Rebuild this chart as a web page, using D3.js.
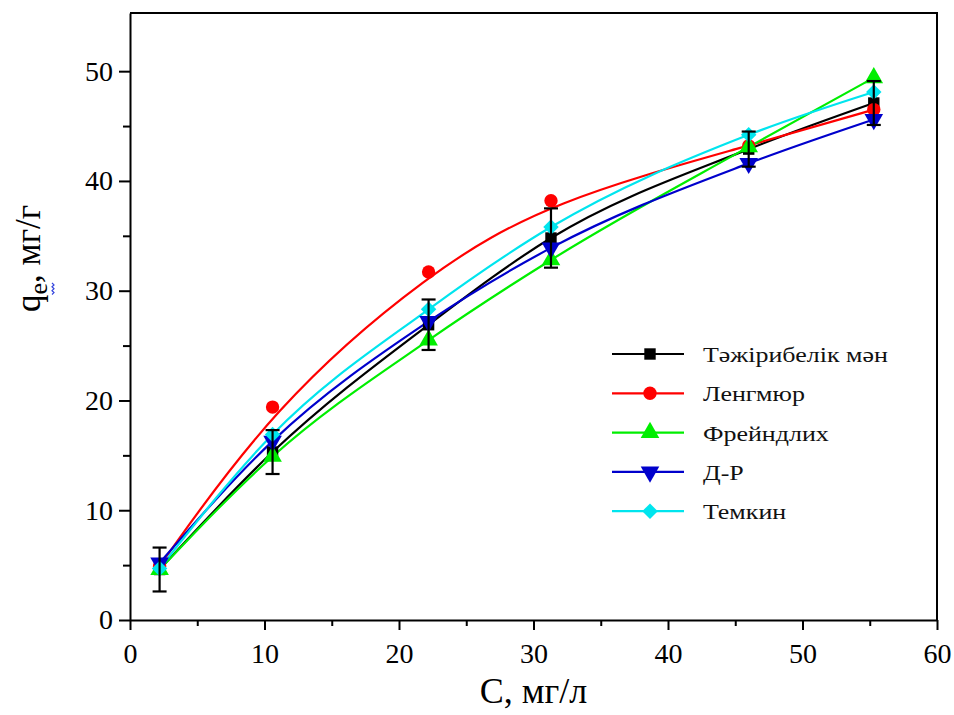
<!DOCTYPE html>
<html>
<head>
<meta charset="utf-8">
<script src="https://cdn.jsdelivr.net/npm/d3@7"></script>
<style>
  body { margin: 0; background: #fff; }
  svg { display: block; font-family: "Liberation Serif", "DejaVu Serif", serif; }
  .axis path, .axis line { stroke: #000; stroke-width: 2; }
  .axis text { font-size: 28px; fill: #000; }
</style>
</head>
<body>
<svg id="chart" width="954" height="715"></svg>
<script>
// concentrations, mg/l
const concX = [2.2, 10.6, 22.2, 31.3, 46.0, 55.3];
// experimental values and error
const expY = [4.6, 15.3, 26.9, 34.8, 42.9, 47.1];
const expErr = [2.0, 2.0, 2.3, 2.7, 1.6, 2.0];
// model fits
const langY = [4.9, 19.4, 31.7, 38.2, 43.2, 46.5];
const freundY = [4.6, 14.9, 25.5, 32.8, 43.1, 49.4];
const drY = [5.2, 16.3, 27.2, 33.9, 41.6, 45.6];
const temkinY = [4.7, 16.9, 28.3, 35.8, 44.2, 48.1];

const seriesNames = ["Тәжірибелік мән", "Ленгмюр", "Фрейндлих", "Д-Р", "Темкин"];
const xTicks = [0, 10, 20, 30, 40, 50, 60];
const yTicks = [0, 10, 20, 30, 40, 50];

var series = [
  {name: seriesNames[0], values: expY, color: "#000000", symbol: d3.symbolSquare, size: 130, rot: 0, curve: d3.curveMonotoneX},
  {name: seriesNames[1], values: langY, color: "#ff0000", symbol: d3.symbolCircle, size: 140, rot: 0, curve: d3.curveBasis},
  {name: seriesNames[2], values: freundY, color: "#00ee00", symbol: d3.symbolTriangle, size: 150, rot: 0, curve: d3.curveMonotoneX},
  {name: seriesNames[3], values: drY, color: "#0000cc", symbol: d3.symbolTriangle, size: 150, rot: 180, curve: d3.curveMonotoneX},
  {name: seriesNames[4], values: temkinY, color: "#00e5ee", symbol: d3.symbolSquare, size: 120, rot: 45, curve: d3.curveMonotoneX}
];

var margin = {top: 13, right: 17, bottom: 95, left: 130};
var width = 954 - margin.left - margin.right;
var height = 715 - margin.top - margin.bottom;

var svg = d3.select("#chart");
var g = svg.append("g")
    .attr("transform", "translate(" + margin.left + "," + margin.top + ")");

var x = d3.scaleLinear().domain([0, 60]).range([0, width]);
var y = d3.scaleLinear().domain([0, 55.3]).range([height, 0]);

// minor ticks
g.append("g")
    .attr("class", "axis")
    .attr("transform", "translate(0," + height + ")")
    .call(d3.axisBottom(x).tickValues(d3.range(5, 60, 10)).tickSize(6).tickFormat(""))
    .select(".domain").remove();
g.append("g")
    .attr("class", "axis")
    .call(d3.axisLeft(y).tickValues(d3.range(5, 55, 10)).tickSize(7).tickFormat(""))
    .select(".domain").remove();

// x axis
g.append("g")
    .attr("class", "axis axis-x")
    .attr("transform", "translate(0," + height + ")")
    .call(d3.axisBottom(x).tickValues(xTicks).tickSizeInner(10).tickSizeOuter(0).tickPadding(13))
    .attr("font-family", "Liberation Serif")
    .attr("font-size", 28);

// y axis
g.append("g")
    .attr("class", "axis axis-y")
    .call(d3.axisLeft(y).tickValues(yTicks).tickSizeInner(11).tickSizeOuter(0).tickPadding(6))
    .attr("font-family", "Liberation Serif")
    .attr("font-size", 28);

// top and right border
g.append("path")
    .attr("d", "M0,0H" + width + "V" + height)
    .attr("fill", "none")
    .attr("stroke", "#000")
    .attr("stroke-width", 2);

// lines
series.forEach(function(s) {
  var line = d3.line()
      .curve(s.curve)
      .x(function(d, i) { return x(concX[i]); })
      .y(function(d) { return y(d); });
  g.append("path")
      .datum(s.values)
      .attr("fill", "none")
      .attr("stroke", s.color)
      .attr("stroke-width", 2.2)
      .attr("d", line);
});

// markers
series.forEach(function(s) {
  g.selectAll(null)
      .data(s.values)
      .enter()
      .append("path")
      .attr("d", d3.symbol().type(s.symbol).size(s.size))
      .attr("transform", function(d, i) {
        return "translate(" + x(concX[i]) + "," + y(d) + ") rotate(" + s.rot + ")";
      })
      .attr("fill", s.color);
});

// error bars on the experiment
var eb = g.selectAll(".errbar")
    .data(expY)
    .enter()
    .append("g")
    .attr("class", "errbar")
    .attr("stroke", "#000")
    .attr("stroke-width", 2.2);
eb.append("line")
    .attr("x1", function(d, i) { return x(concX[i]); })
    .attr("x2", function(d, i) { return x(concX[i]); })
    .attr("y1", function(d, i) { return y(d + expErr[i]); })
    .attr("y2", function(d, i) { return y(d - expErr[i]); });
[1, -1].forEach(function(sgn) {
  eb.append("line")
      .attr("x1", function(d, i) { return x(concX[i]) - 7; })
      .attr("x2", function(d, i) { return x(concX[i]) + 7; })
      .attr("y1", function(d, i) { return y(d + sgn * expErr[i]); })
      .attr("y2", function(d, i) { return y(d + sgn * expErr[i]); });
});

// legend
var legend = g.append("g")
    .attr("transform", "translate(" + (612 - margin.left) + "," + (354 - margin.top) + ")");
series.forEach(function(s, i) {
  var row = legend.append("g").attr("transform", "translate(0," + (i * 39.3) + ")");
  row.append("line")
      .attr("x1", 0).attr("x2", 72)
      .attr("stroke", s.color)
      .attr("stroke-width", 2.2);
  row.append("path")
      .attr("d", d3.symbol().type(s.symbol).size(s.size))
      .attr("transform", "translate(38,0) rotate(" + s.rot + ")")
      .attr("fill", s.color);
  row.append("text")
      .attr("transform", "translate(91,8) scale(1.18,1)")
      .attr("font-size", "22px")
      .attr("fill", "#111")
      .text(s.name);
});

// x axis title
svg.append("text")
    .attr("x", margin.left + width / 2)
    .attr("y", 703)
    .attr("text-anchor", "middle")
    .attr("font-size", "36px")
    .text("C, мг/л");

// y axis title
var yt = svg.append("g")
    .attr("transform", "translate(40,312) rotate(-90)");
var ytext = yt.append("text")
    .attr("font-size", "35px");
ytext.append("tspan").text("q");
ytext.append("tspan").attr("dy", 7).attr("font-size", "26px").text("e");
ytext.append("tspan").attr("dy", -7).text(", мг/г");
var qw = ytext.node().getSubStringLength(0, 1);
var ew = ytext.node().getSubStringLength(1, 1);
yt.append("path")
    .attr("d", d3.range(0, 7).map(function(k) {
      return (k === 0 ? "M" : "L") + (qw + k * ew / 6) + "," + (12 + (k % 2) * 2);
    }).join(""))
    .attr("fill", "none")
    .attr("stroke", "#3344dd")
    .attr("stroke-width", 1.2);
</script>
</body>
</html>
